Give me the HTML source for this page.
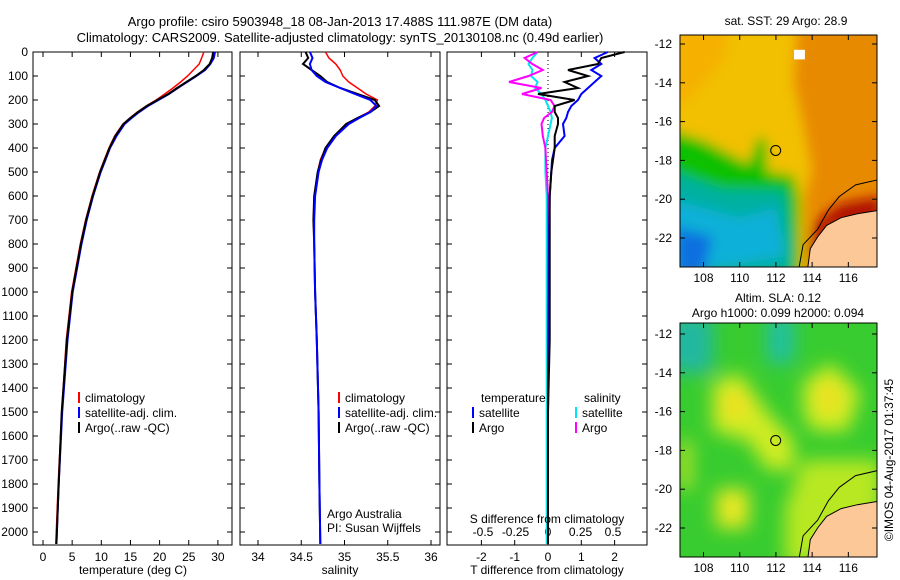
<!DOCTYPE html>
<html><head><meta charset="utf-8"><style>
body{margin:0;background:#fff;}
svg{display:block;font-family:"Liberation Sans",sans-serif;}
text{fill:#000;}
</style></head><body>
<svg id="c" width="900" height="580" xmlns="http://www.w3.org/2000/svg">
<defs>
<filter id="bl" x="-20%" y="-20%" width="140%" height="140%"><feGaussianBlur stdDeviation="6"/></filter>
<filter id="bl2" x="-20%" y="-20%" width="140%" height="140%"><feGaussianBlur stdDeviation="9"/></filter>
<clipPath id="m1c"><rect x="680" y="35" width="197" height="232"/></clipPath>
<clipPath id="m2c"><rect x="680" y="323" width="197" height="234"/></clipPath>
</defs>
<text x="340" y="26" font-size="13" text-anchor="middle">Argo profile: csiro 5903948_18 08-Jan-2013 17.488S 111.987E (DM data)</text>
<text x="340" y="42" font-size="13" text-anchor="middle">Climatology: CARS2009. Satellite-adjusted climatology: synTS_20130108.nc (0.49d earlier)</text>
<text x="786" y="25" font-size="12" text-anchor="middle">sat. SST: 29 Argo: 28.9</text>
<text x="778" y="302" font-size="12" text-anchor="middle">Altim. SLA: 0.12</text>
<text x="778" y="317" font-size="12" text-anchor="middle">Argo h1000: 0.099 h2000: 0.094</text>
<text transform="translate(893,460) rotate(-90)" font-size="12" text-anchor="middle">©IMOS 04-Aug-2017 01:37:45</text>
<g id="g"></g>
</svg>
<script>
// ---- data ----
const depths=[0,25,50,75,100,125,150,175,200,225,250,275,300,350,400,450,500,600,700,800,1000,1200,1500,1800,2050];
const tempArgo=[29.2,29,28.6,27.6,26.2,24.6,23,21.5,19.6,17.8,16.3,15,13.8,12.4,11.4,10.6,9.8,8.5,7.4,6.5,5,4.1,3.2,2.7,2.3];
const tempClim=[27.6,27.2,26.8,25.8,24.8,23.6,22.3,20.9,19.4,17.7,16.2,14.9,13.7,12.3,11.3,10.5,9.7,8.4,7.3,6.4,4.9,4.0,3.2,2.6,2.2];
const tempSat=[29.5,29.3,28.7,27.8,26.3,24.7,23.1,21.6,19.8,18,16.5,15.2,14,12.6,11.5,10.7,9.9,8.6,7.5,6.6,5.1,4.2,3.3,2.7,2.3];
const salArgo=[34.55,34.58,34.52,34.62,34.72,34.8,34.95,35.15,35.35,35.4,35.3,35.15,35.02,34.88,34.78,34.73,34.69,34.65,34.64,34.65,34.66,34.68,34.7,34.71,34.72];
const salClim=[34.78,34.82,34.9,34.95,34.98,35.05,35.15,35.25,35.38,35.35,35.28,35.15,35.03,34.88,34.78,34.72,34.69,34.65,34.64,34.65,34.66,34.68,34.7,34.71,34.72];
const salSat=[34.6,34.63,34.6,34.62,34.68,34.78,34.95,35.12,35.3,35.37,35.3,35.17,35.05,34.9,34.8,34.74,34.7,34.66,34.65,34.65,34.66,34.68,34.7,34.71,34.72];
const dTArgo=[2.3,1.6,1.5,0.6,1.2,0.5,0.9,-0.3,0.8,0.2,0.2,0.3,0.3,0.2,0.2,0.15,0.1,0.05,0.05,0.05,0.05,0.05,0,0,0];
const dTSat=[1.8,1.4,1.6,1.3,1.6,1.4,1.2,1.0,0.9,0.7,0.6,0.55,0.45,0.5,0.2,0.12,0.1,0.05,0.04,0.03,0.02,0.01,0,0,0];
const dSArgo=[-0.08,-0.18,-0.12,-0.04,-0.15,-0.3,-0.05,-0.2,0.02,0.05,0.03,-0.03,-0.05,-0.04,-0.02,-0.015,-0.01,0,0,0,0,0,0,0,0];
const dSSat=[-0.08,-0.12,-0.15,-0.12,-0.13,-0.08,-0.1,-0.05,-0.02,0,0.02,0.03,0.02,0,-0.02,-0.02,-0.02,-0.01,-0.01,-0.01,-0.01,-0.01,-0.01,-0.01,-0.01];
const depthTicks=[0,100,200,300,400,500,600,700,800,900,1000,1100,1200,1300,1400,1500,1600,1700,1800,1900,2000];
const tTicks=[0,5,10,15,20,25,30];
const sTicks=[34,34.5,35,35.5,36];
const dtTicks=[-2,-1,0,1,2];
const dsTicks=[-0.5,-0.25,0,0.25,0.5];
const latTicks=[-12,-14,-16,-18,-20,-22];
const lonTicks=[108,110,112,114,116];

const NS='http://www.w3.org/2000/svg';
const G=document.getElementById('g');
function mk(tag,at,parent){const e=document.createElementNS(NS,tag);for(const k in at)e.setAttribute(k,at[k]);(parent||G).appendChild(e);return e;}
const Y=d=>52+d*0.24;
const PT=52,PB=545;
function panel(x0,x1,xs,ticks,fmt,name){
  const r=mk('rect',{x:x0,y:PT,width:x1-x0,height:PB-PT,fill:'none',stroke:'#000','stroke-width':1});
  
  ticks.forEach(t=>{const x=xs(t);
    mk('line',{x1:x,x2:x,y1:PB,y2:PB-5,stroke:'#000'});mk('line',{x1:x,x2:x,y1:PT,y2:PT+5,stroke:'#000'});
    if(fmt){const tx=mk('text',{x:x,y:PB+16,'font-size':12,'text-anchor':'middle'});tx.textContent=fmt(t);
    }});
  depthTicks.forEach(d=>{const y=Y(d);mk('line',{x1:x0,x2:x0+5,y1:y,y2:y,stroke:'#000'});mk('line',{x1:x1,x2:x1-5,y1:y,y2:y,stroke:'#000'});});
}
function line(xs,vals,color,w,name){
  const d=vals.map((v,i)=>(i?'L':'M')+xs(v).toFixed(1)+','+Y(depths[i]).toFixed(1)).join('');
  const p=mk('path',{d:d,fill:'none',stroke:color,'stroke-width':w});
  
}
function txt(x,y,s,name,anchor,size){const t=mk('text',{x:x,y:y,'font-size':size||12,'text-anchor':anchor||'start'});t.textContent=s;
  return t;}
function leg(x,y,c,s,name){mk('line',{x1:x,x2:x,y1:y-10,y2:y+1,stroke:c,'stroke-width':2});txt(x+6,y,s,name);}

// Panel 1 temperature
const xT=v=>43+v*5.83;
panel(33,232,xT,tTicks,t=>String(t),'temperature-axis');
depthTicks.forEach(d=>txt(28,Y(d)+4,String(d),'depth-tick-label','end'));
line(xT,tempSat,'#0000ff',2,'temp-satellite-line');
line(xT,tempClim,'#ff0000',1.5,'temp-climatology-line');
line(xT,tempArgo,'#000',2,'temp-argo-line');
txt(133,574,'temperature (deg C)','temperature-axis-title','middle');
leg(79,402,'#f00','climatology','legend-climatology');leg(79,417,'#00f','satellite-adj. clim.','legend-satellite');leg(79,432,'#000','Argo(..raw -QC)','legend-argo');

// Panel 2 salinity
const xS=v=>258+(v-34)*86.5;
panel(240,440,xS,sTicks,t=>String(t),'salinity-axis');
line(xS,salClim,'#ff0000',1.5,'sal-climatology-line');
line(xS,salArgo,'#000',2,'sal-argo-line');
line(xS,salSat,'#0000ff',2,'sal-satellite-line');
txt(340,574,'salinity','salinity-axis-title','middle');
leg(339,402,'#f00','climatology','legend-climatology-2');leg(339,417,'#00f','satellite-adj. clim.','legend-satellite-2');leg(339,432,'#000','Argo(..raw -QC)','legend-argo-2');
txt(327,518,'Argo Australia','argo-australia-label');txt(327,532,'PI: Susan Wijffels','pi-label');

// Panel 3 differences
const xDT=v=>548+v*33.3;
const xDS=v=>548+v*130;
panel(447,647,xDT,dtTicks,t=>String(t),'tdiff-axis');
dsTicks.forEach(t=>txt(xDS(t),536,String(t),'sdiff-tick-label','middle'));
mk('line',{x1:548,x2:548,y1:PT,y2:PB,stroke:'#000','stroke-dasharray':'1,3'});
line(xDS,dSSat,'#00e5ee',2,'sdiff-satellite-line');
line(xDS,dSArgo,'#ff00ff',2,'sdiff-argo-line');
line(xDT,dTSat,'#0000ff',2,'tdiff-satellite-line');
line(xDT,dTArgo,'#000',2,'tdiff-argo-line');
txt(547,523,'S difference from climatology','sdiff-axis-title','middle');
txt(547,574,'T difference from climatology','tdiff-axis-title','middle');
txt(481,402,'temperature','legend-temperature-head');txt(584,402,'salinity','legend-salinity-head');
leg(473,417,'#00f','satellite','legend-t-satellite');leg(473,432,'#000','Argo','legend-t-argo');
leg(576,417,'#00e5ee','satellite','legend-s-satellite');leg(576,432,'#f0f','Argo','legend-s-argo');

// Maps
const LX=v=>680+(v-106.7)*18.1;
function mapAxes(top,bot,lat12,name){
  const LY=v=>lat12+(-v-12)*19.4;
  const r=mk('rect',{x:680,y:top,width:197,height:bot-top,fill:'none',stroke:'#000'});
  
  latTicks.forEach(l=>{const y=LY(l);mk('line',{x1:680,x2:685,y1:y,y2:y,stroke:'#000'});mk('line',{x1:877,x2:872,y1:y,y2:y,stroke:'#000'});
    txt(672,y+4,String(l),name+'-lat-label','end');});
  lonTicks.forEach(l=>{const x=LX(l);mk('line',{x1:x,x2:x,y1:top,y2:top+5,stroke:'#000'});mk('line',{x1:x,x2:x,y1:bot,y2:bot-5,stroke:'#000'});
    txt(x,bot+15,String(l),name+'-lon-label','middle');});
  const c=mk('circle',{cx:LX(111.987),cy:LY(-17.488),r:5,fill:'none',stroke:'#000'});
  
  return LY;
}
function poly(pts,LY,at,parent){return mk('polygon',Object.assign({points:pts.map(p=>LX(p[0]).toFixed(1)+','+LY(p[1]).toFixed(1)).join(' ')},at),parent);}
function pline(pts,LY,parent){return mk('polyline',{points:pts.map(p=>LX(p[0]).toFixed(1)+','+LY(p[1]).toFixed(1)).join(' '),fill:'none',stroke:'#000','stroke-width':1},parent);}
const land=[[113.7,-24],[113.9,-22.6],[114.3,-22.0],[114.8,-21.4],[115.6,-21.0],[116.5,-20.8],[117.8,-20.6],[117.8,-24]];
const shelf=[[113.2,-24],[113.5,-22.4],[114.3,-21.6],[114.9,-20.6],[115.5,-19.9],[116.4,-19.3],[117.8,-19.0]];

// map 1 SST
const LY1=(v=>35+9+(-v-12)*19.3);
const m1=mk('g',{'clip-path':'url(#m1c)'});
mk('rect',{x:680,y:35,width:197,height:232,fill:'#e88a00'},m1);
const f1=mk('g',{filter:'url(#bl)'},m1);
poly([[106,-11],[113.2,-11],[113,-14],[113.5,-16],[114,-18.5],[113.6,-20],[113.6,-24],[106,-24]],LY1,{fill:'#f2c000'},f1);
poly([[106,-11],[109.5,-11],[109,-13],[107,-15],[106,-15]],LY1,{fill:'#f5b000'},f1);
poly([[106,-16.4],[108,-17],[110.5,-18.2],[111,-16.8],[111.5,-17],[111.5,-18.6],[113,-18.8],[113.3,-20],[113.3,-24],[106,-24]],LY1,{fill:'#10c000'},f1);
poly([[106,-18.5],[109,-19.5],[112.5,-19.6],[112.8,-22],[112.8,-24],[106,-24]],LY1,{fill:'#00b0a0'},f1);
poly([[106,-20],[110,-21],[112,-20.5],[112.5,-23],[106,-24]],LY1,{fill:'#10b0d8'},f1);
poly([[106.5,-21.5],[108.5,-22],[108,-24],[106.5,-24]],LY1,{fill:'#1070e0'},f1);
poly([[113.8,-23],[114.2,-21.2],[115.5,-20.3],[117.8,-19.9],[117.8,-21],[115,-21.5],[114.4,-23]],LY1,{fill:'#b01000'},f1);
poly([[113,-12.3],[113.6,-12.3],[113.6,-12.8],[113,-12.8]],LY1,{fill:'#fff'},m1);
poly(land,LY1,{fill:'#fdc898',stroke:'#000','stroke-width':1},m1);
pline(shelf,LY1,m1);
mapAxes(35,267,44,'sst-map');

// map 2 SLA
const m2=mk('g',{'clip-path':'url(#m2c)'});
mk('rect',{x:680,y:323,width:197,height:234,fill:'#38cc30'},m2);
const LY2=(v=>334+(-v-12)*19.4);
const f2=mk('g',{filter:'url(#bl2)'},m2);
poly([[108.5,-14.5],[110,-14],[111.5,-16],[113,-17.5],[113,-19],[111.5,-19],[110.5,-17.5],[108.5,-17]],LY2,{fill:'#d0ec20'},f2);
poly([[109,-15],[110.5,-15],[110.5,-16.3],[109,-16.3]],LY2,{fill:'#f0e020'},f2);
poly([[113.5,-14.5],[115,-13.5],[116.7,-15],[116,-17],[114,-17],[113.5,-16]],LY2,{fill:'#d0ec20'},f2);
poly([[114.3,-14.5],[115.5,-14.5],[115.5,-16],[114.3,-16]],LY2,{fill:'#f0e020'},f2);
poly([[108.7,-20],[110.5,-20],[110.5,-22],[108.7,-22]],LY2,{fill:'#e8e820'},f2);
poly([[106,-11],[108.5,-11],[108.5,-14],[106,-14]],LY2,{fill:'#20b8a0'},f2);
poly([[111.5,-11],[113,-11],[113,-13.5],[111.5,-13.5]],LY2,{fill:'#20c0a0'},f2);
poly([[113.5,-18.5],[117.8,-18.5],[117.8,-21],[113.5,-24],[112.5,-24],[112.5,-21]],LY2,{fill:'#b8e820'},f2);
poly([[106.7,-17.5],[107.3,-17.5],[107.3,-20],[106.7,-20]],LY2,{fill:'#d0e820'},f2);
poly(land,LY2,{fill:'#fdc898',stroke:'#000','stroke-width':1},m2);
pline(shelf,LY2,m2);
mapAxes(323,557,334,'sla-map');
</script>
</body></html>
